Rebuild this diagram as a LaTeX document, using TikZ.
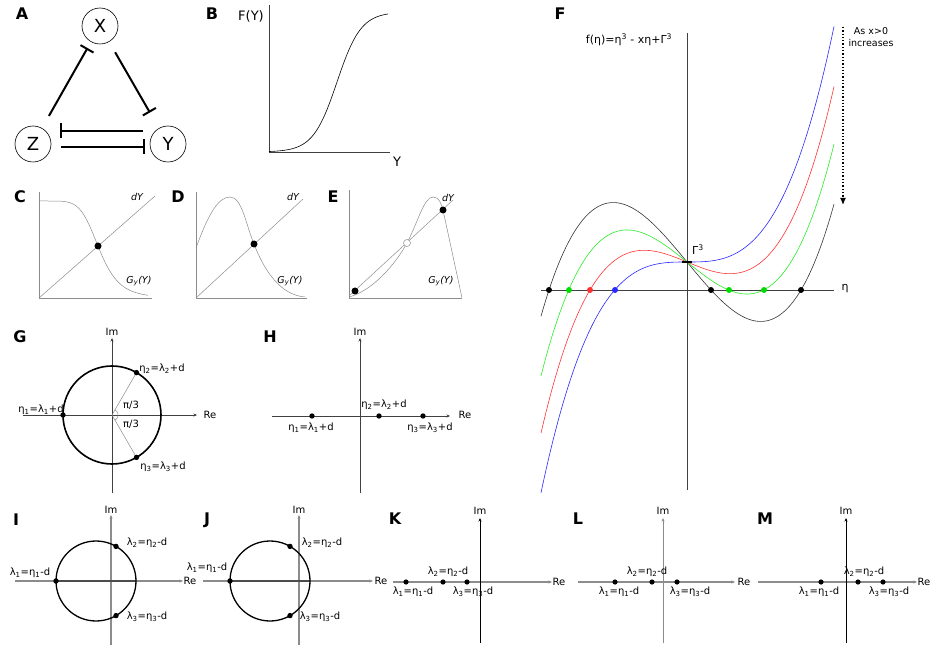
\documentclass[tikz,border=0pt]{standalone}
\usepackage{fontspec}
\setmainfont{DejaVu Sans}
\usepackage{xcolor}
\usepackage{tikz}
\usetikzlibrary{arrows.meta,calc}
\definecolor{fgreen}{RGB}{40,235,40}
\definecolor{fdotgreen}{RGB}{0,220,0}
\definecolor{fred}{RGB}{255,50,50}
\definecolor{fblue}{RGB}{40,40,255}
\newcommand{\sbs}[1]{\textsubscript{#1}}
\newcommand{\etaeq}[1]{η\sbs{#1}=λ\sbs{#1}+d}
\newcommand{\lameq}[1]{λ\sbs{#1}=η\sbs{#1}-d}

\begin{document}
\begin{tikzpicture}[x=1pt,y=-1pt,
    panel/.style={font=\fontsize{16}{16}\selectfont\bfseries},
    lbl/.style={font=\fontsize{10}{10}\selectfont,inner sep=0pt},
    itl/.style={font=\fontsize{9.5}{10}\selectfont\itshape,inner sep=0pt},
    big/.style={font=\fontsize{13}{13}\selectfont,inner sep=0pt},
    gene/.style={draw,circle,line width=0.6pt,minimum size=36pt,inner sep=0pt,font=\fontsize{18}{18}\selectfont},
    inh/.style={line width=2pt,-{Bar[width=15pt]}},
    axis/.style={black!75,line width=0.8pt},
    faint/.style={black!45,line width=0.5pt},
    plane/.style={black!45,line width=1.3pt},
    tip/.style={-{Stealth[length=3.5pt,width=3pt]}},
    curve/.style={line width=0.6pt}
]
\useasboundingbox (0,0) rectangle (935,647);

\foreach \letter/\x/\y in {A/22/14,B/212/14,C/20/197,D/178/197,E/333/197,F/560/14,G/20/337,H/270/337,I/16/520,J/207/520,K/395/519,L/578/519,M/765/519}
    \node[panel] (p\letter) at (\x,\y) {\letter};

% A
\node[gene] (X) at (100,26) {X};
\node[gene] (Z) at (33,144) {Z};
\node[gene] (Y) at (168,144) {Y};
\draw[inh,shorten <=14pt,shorten >=7pt] (Z) -- (X);
\draw[inh,shorten <=12pt,shorten >=18pt] (X) -- (Y);
\draw[inh,shorten <=7pt,shorten >=9pt] ([yshift=13pt]Y.west) -- ([yshift=13pt]Z.east);
\draw[inh,shorten <=10pt,shorten >=5pt] ([yshift=-3pt]Z.east) -- ([yshift=-3pt]Y.west);

% B
\draw[axis] (269,5) -- (269,152) -- (390,152);
\node[big] (fy) at (251,16) {F(Y)};
\node[big] (yb) at (397,162) {Y};
\draw[curve,domain=269:388,samples=80] plot (\x,{152-140/(1+exp(-(\x-337)/12))});

% C
\draw[faint] (39,192) -- (39,298) -- (152,298);
\draw[faint] (39,298) -- (155,196);
\draw[faint,domain=39.5:148,samples=60] plot (\x,{298-97/(1+((\x-39)/60.4)^6)});
\fill (98,246) circle[radius=3.5];
\node[itl] (dyC) at (137,197) {dY};
\node[itl] (gC) at (139,281) {G\sbs{y}(Y)};

% D
\draw[faint] (196,192) -- (196,298) -- (307,298);
\draw[faint] (196,298) -- (303,199);
\draw[faint] (196,248) .. controls (208,215) and (218,197) .. (230,197)
    .. controls (242,197) and (246,225) .. (254,244)
    .. controls (264,270) and (280,295) .. (305,297);
\fill (254,244) circle[radius=3.5];
\node[itl] (dyD) at (293,197) {dY};
\node[itl] (gD) at (290,281) {G\sbs{y}(Y)};

% E
\draw[faint] (349,190) -- (349,298) -- (462,298);
\draw[faint] (349,296) -- (453,200);
\draw[faint] (349,297) .. controls (372,291) and (395,265) .. (407,243)
    .. controls (418,222) and (424,197) .. (433,197)
    .. controls (439,197) and (441,203) .. (443,210) -- (462,298);
\fill (355,291) circle[radius=3.5];
\fill (443,210) circle[radius=3.5];
\draw[faint,fill=white] (407,243) circle[radius=3.5];
\node[itl] (dyE) at (448,198) {dY};
\node[itl] (gE) at (441,281) {G\sbs{y}(Y)};

% F
\draw[axis] (687,33) -- (687,490);
\draw[axis] (541,290) -- (834,290);
\foreach \k/\col in {1.6308/black!80,1.08/fgreen,0.5517/fred,0/fblue}
    \draw[curve,\col,domain=-146:147,samples=120] plot ({687+\x},{290-74.16*((\x/100)*(\x/100)*(\x/100)-\k*(\x)/100+0.3776)});
\foreach \x/\col in {549/black,711/black,801/black,569/fdotgreen,729/fdotgreen,764/fdotgreen,590/fred,615/fblue}
    \fill[\col] (\x,290) circle[radius=3];
\draw[line width=2pt] (682,262) -- (692,262);
\node[lbl,font=\fontsize{11}{11}\selectfont] (ftitle) at (629,40) {f(η)=η\textsuperscript{3} - xη+Γ\textsuperscript{3}};
\node[lbl,font=\fontsize{11}{11}\selectfont] (gam) at (698,250) {Γ\textsuperscript{3}};
\node[lbl,font=\fontsize{11}{11}\selectfont] (etaF) at (845,289) {η};
\draw[dotted,line width=1.3pt,-{Latex[length=7pt,width=6pt]}] (843,27) -- (843,205);
\node[lbl,font=\fontsize{9.5}{12}\selectfont,align=center] (incr) at (871,37) {As x>0\\increases};

% G
\draw[axis,tip] (23,415) -- (197,415);
\draw[axis,tip] (112,493) -- (112,338);
\node[lbl] (reG) at (210,415) {Re};
\node[lbl] (imG) at (112,332) {Im};
\draw[line width=1.6pt] (112,415) circle[radius=49];
\draw[faint] (136.5,372.6) -- (112,415) -- (136.5,457.4);
\draw[faint] (112,415) ++(-60:6) arc[start angle=-60,end angle=60,radius=6];
\foreach \x/\y in {63/415,136.5/372.6,136.5/457.4}
    \fill (\x,\y) circle[radius=2.7];
\node[lbl] (g1) at (41,410) {\etaeq{1}};
\node[lbl] (g2) at (162,369) {\etaeq{2}};
\node[lbl] (g3) at (163,467) {\etaeq{3}};
\node[lbl] (pi1) at (131,405) {π/3};
\node[lbl] (pi2) at (131,424) {π/3};

% H
\draw[axis,tip] (272,416) -- (450,416);
\draw[axis,tip] (360,493) -- (360,338);
\node[lbl] (reH) at (465,415) {Re};
\node[lbl] (imH) at (360,332) {Im};
\foreach \x in {312,379,423}
    \fill (\x,416) circle[radius=2.7];
\node[lbl] (h1) at (311,428) {\etaeq{1}};
\node[lbl] (h2) at (384,405) {\etaeq{2}};
\node[lbl] (h3) at (430,428) {\etaeq{3}};

% I
\draw[plane,tip] (15,581) -- (183,581);
\draw[plane,tip] (111,645) -- (111,515);
\draw[black!70,line width=1.3pt] (56,581) -- (136,581);
\draw[line width=1.3pt] (96,581) circle[radius=40];
\foreach \x/\y in {56/581,116/546.4,116/615.6}
    \fill (\x,\y) circle[radius=2.7];
\node[lbl] (reI) at (190,581) {Re};
\node[lbl] (imI) at (111,510) {Im};
\node[lbl] (i1) at (30,573) {\lameq{1}};
\node[lbl] (i2) at (147,543) {\lameq{2}};
\node[lbl] (i3) at (147,617) {\lameq{3}};

% J
\draw[plane,tip] (203,581) -- (373,581);
\draw[plane,tip] (299,645) -- (299,515);
\draw[black!70,line width=1.3pt] (230,581) -- (310,581);
\draw[line width=1.3pt] (270,581) circle[radius=40];
\foreach \x/\y in {230/581,290/546.4,290/615.6}
    \fill (\x,\y) circle[radius=2.7];
\node[lbl] (reJ) at (381,581) {Re};
\node[lbl] (imJ) at (299,510) {Im};
\node[lbl] (j1) at (207,568) {\lameq{1}};
\node[lbl] (j2) at (322,543) {\lameq{2}};
\node[lbl] (j3) at (320,617) {\lameq{3}};

% K
\draw[plane,tip] (393,582) -- (552,582);
\draw[black,line width=0.8pt,tip] (480,643) -- (480,518);
\foreach \x in {406,443,467}
    \fill (\x,582) circle[radius=2.6];
\node[lbl] (reK) at (559,582) {Re};
\node[lbl] (imK) at (480,511) {Im};
\node[lbl] (k1) at (413,592) {\lameq{1}};
\node[lbl] (k2) at (448,572) {\lameq{2}};
\node[lbl] (k3) at (473,592) {\lameq{3}};

% L
\draw[plane,tip] (578,582) -- (735,582);
\draw[plane,line width=1pt,tip] (663,643) -- (663,518);
\foreach \x in {615,652,677}
    \fill (\x,582) circle[radius=2.6];
\node[lbl] (reL) at (744,582) {Re};
\node[lbl] (imL) at (663,511) {Im};
\node[lbl] (l1) at (619,592) {\lameq{1}};
\node[lbl] (l2) at (647,572) {\lameq{2}};
\node[lbl] (l3) at (690,592) {\lameq{3}};

% M
\draw[plane,tip] (758,582) -- (917,582);
\draw[black,line width=0.8pt,tip] (846,643) -- (846,518);
\foreach \x in {821,858,883}
    \fill (\x,582) circle[radius=2.6];
\node[lbl] (reM) at (924,582) {Re};
\node[lbl] (imM) at (846,511) {Im};
\node[lbl] (m1) at (819,592) {\lameq{1}};
\node[lbl] (m2) at (864,572) {\lameq{2}};
\node[lbl] (m3) at (889,592) {\lameq{3}};

\end{tikzpicture}
\end{document}
